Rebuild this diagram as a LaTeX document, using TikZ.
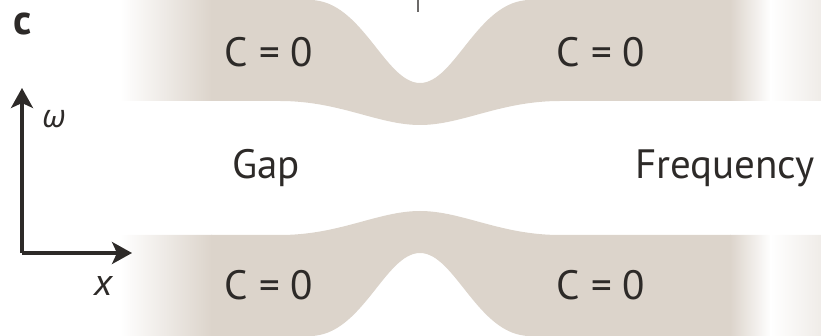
\documentclass[tikz,border=0pt]{standalone}
\usepackage{fontspec}
\setmainfont{PT Sans}
\newfontfamily\greekfont{Open Sans}
\usetikzlibrary{arrows.meta}
\definecolor{bandcol}{RGB}{220,212,203}
\definecolor{txtcol}{RGB}{45,42,40}
% outline of the upper band, in pixel units (y pointing down)
\newcommand{\bandoutline}{(120,0) -- (310,0) .. controls (362,0) and (385,83) .. (420,83)
  .. controls (455,83) and (478,0) .. (530,0) -- (821,0) -- (821,101) -- (560,101)
  .. controls (500,101) and (462,125) .. (420,125)
  .. controls (378,125) and (340,101) .. (280,101) -- (120,101) -- cycle}
\newcommand{\bandfill}{%
  \begin{scope}
    \clip \bandoutline;
    \shade[left color=white, right color=bandcol] (120,-5) rectangle (212,130);
    \fill[bandcol] (211,-5) rectangle (731,130);
    \shade[left color=bandcol, right color=white] (730,-5) rectangle (771,130);
    \shade[left color=white, right color=bandcol!45] (770,-5) rectangle (822,130);
  \end{scope}}
\begin{document}
\begin{tikzpicture}[x=1pt, y=-1pt,
    label/.style={text=txtcol, font=\fontsize{41}{45}\selectfont, inner sep=0pt},
    axis/.style={-{Stealth[length=20pt, width=22pt, inset=5pt]}, line width=3.3pt, txtcol}]

  \useasboundingbox (0,0) rectangle (821,336);

  % bands above and below the gap
  \bandfill
  \begin{scope}[shift={(0,336)}, yscale=-1]
    \bandfill
  \end{scope}

  % small tip at the top of the notch
  \draw[txtcol!70, line width=1.2pt] (418,0) -- (418,12);

  % labels
  \node[label] (cul) at (269,52)  {C = 0};
  \node[label] (cur) at (601,52)  {C = 0};
  \node[label] (cll) at (269,285) {C = 0};
  \node[label] (clr) at (601,285) {C = 0};
  \node[label] (gap) at (266,168) {Gap};
  \node[label] (freq) at (725,168) {Frequency};

  % panel letter
  \node[text=txtcol, font=\fontsize{42}{46}\selectfont\bfseries, inner sep=0pt] (panel) at (23,24) {c};

  % axes
  \coordinate (origin) at (22,253);
  \coordinate (wtip) at (22,88);
  \coordinate (xtip) at (132,253);
  \draw[axis] (origin) -- (wtip);
  \draw[axis] (origin) -- (xtip);
  \node[text=txtcol, font=\fontsize{32}{36}\greekfont\itshape, inner sep=0pt] (wlab) at (54,119) {ω};
  \node[label, font=\fontsize{38}{42}\selectfont\itshape] (xlab) at (103,286) {x};
\end{tikzpicture}
\end{document}
